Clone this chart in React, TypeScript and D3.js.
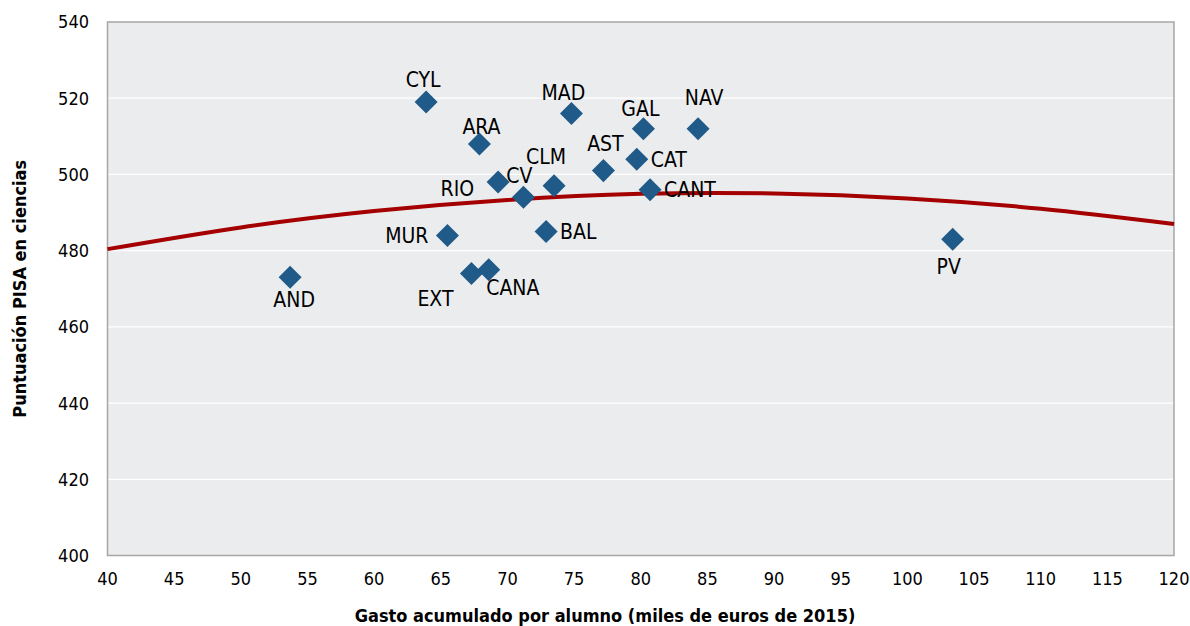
import React from "react";
import * as d3 from "d3";

const regions = ["CYL", "ARA", "MAD", "GAL", "NAV", "AST", "CAT", "CLM", "RIO", "CV", "CANT", "BAL", "MUR", "EXT", "CANA", "AND", "PV"];
const gasto = [63.9, 67.9, 74.8, 80.2, 84.3, 77.2, 79.7, 73.5, 69.3, 71.2, 80.7, 72.9, 65.5, 67.3, 68.6, 53.7, 103.4];
const pisa = [519, 508, 516, 512, 512, 501, 504, 497, 498, 494, 496, 485, 484, 474, 475, 473, 483];

// label placement relative to marker: [dx, dy, anchor]
const labelDx = [-3, 2, -8, -3, 6, 2, 14, -8, -24, -4, 14, 14, -19, -36, 24, 4, -4];
const labelDy = [-23, -18, -21, -20, -31, -27, 0, -29, 6, -22, 0, 0, 0, 25, 18, 22, 27];
const labelAnchor = ["middle", "middle", "middle", "middle", "middle", "middle", "start", "middle", "end", "middle", "start", "start", "end", "middle", "middle", "middle", "middle"];

// polynomial trend line
const trendX = [40, 50, 60, 70, 80, 90, 100, 110, 120];
const trendY = [480.4, 486.1, 490.4, 493.3, 494.9, 495.0, 493.7, 491.0, 487.0];

const xTicks = d3.range(40, 121, 5);
const yTicks = d3.range(400, 541, 20);

const W = 1190, H = 626;
const M = { left: 107.5, right: 1174, top: 22, bottom: 555.5 };
const FONT = "'DejaVu Sans Condensed', 'DejaVu Sans', sans-serif";

export default function App() {
  const x = d3.scaleLinear().domain([40, 120]).range([M.left, M.right]);
  const y = d3.scaleLinear().domain([400, 540]).range([M.bottom, M.top]);
  const line = d3.line<number>().x((_, i) => x(trendX[i])).y((d) => y(d)).curve(d3.curveNatural);
  const diamond = d3.symbol().type(d3.symbolSquare).size(265)();

  return (
    <svg width={W} height={H} style={{ position: "absolute", left: 0, top: 0, background: "#fff" }} fontFamily={FONT}>
      <rect x={M.left} y={M.top} width={M.right - M.left} height={M.bottom - M.top} fill="#EBECEE" />
      {yTicks.slice(1, -1).map((t) => (
        <line key={t} x1={M.left} x2={M.right} y1={y(t)} y2={y(t)} stroke="#fff" strokeWidth={1.3} />
      ))}
      <rect x={M.left} y={M.top} width={M.right - M.left} height={M.bottom - M.top} fill="none" stroke="#A6A6A6" strokeWidth={1.5} />
      {yTicks.map((t) => (
        <text key={t} x={89} y={y(t)} dy="0.36em" textAnchor="end" fontSize={18} fill="#000">{t}</text>
      ))}
      {xTicks.map((t) => (
        <text key={t} x={x(t)} y={585} textAnchor="middle" fontSize={18} fill="#000">{t}</text>
      ))}
      <path d={line(trendY) || ""} fill="none" stroke="#A50000" strokeWidth={4} />
      {regions.map((r, i) => (
        <g key={r}>
          <path d={diamond} transform={`translate(${x(gasto[i])},${y(pisa[i])}) rotate(45)`} fill="#1F5A89" />
          <text x={x(gasto[i]) + labelDx[i]} y={y(pisa[i]) + labelDy[i]} dy="0.36em" textAnchor={labelAnchor[i]} fontSize={21} fill="#000">{r}</text>
        </g>
      ))}
      <text x={605} y={622} textAnchor="middle" fontSize={18} fontWeight="bold" fill="#000">Gasto acumulado por alumno (miles de euros de 2015)</text>
      <text transform={`translate(26,${(M.top + M.bottom) / 2}) rotate(-90)`} textAnchor="middle" fontSize={18} fontWeight="bold" fill="#000">Puntuación PISA en ciencias</text>
    </svg>
  );
}
